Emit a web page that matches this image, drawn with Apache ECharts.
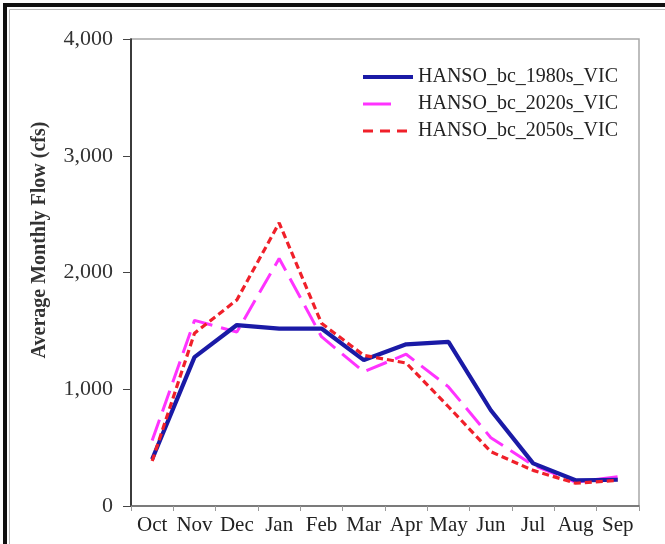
<!DOCTYPE html>
<html>
<head>
<meta charset="utf-8">
<script src="https://cdn.jsdelivr.net/npm/echarts@6/dist/echarts.min.js"></script>
<style>html,body{margin:0;padding:0;background:#fff}#c{width:665px;height:544px}</style>
</head>
<body>
<div id="c"></div>
<script>
var months = ['Oct','Nov','Dec','Jan','Feb','Mar','Apr','May','Jun','Jul','Aug','Sep'];
var s1980 = [400, 1275, 1550, 1520, 1520, 1250, 1385, 1405, 820, 365, 220, 225];
var s2020 = [560, 1590, 1490, 2120, 1450, 1150, 1300, 1020, 585, 350, 205, 250];
var s2050 = [385, 1480, 1765, 2425, 1565, 1290, 1225, 850, 465, 305, 195, 220];
var yTicks = [0, 1000, 2000, 3000, 4000];
var names = ['HANSO_bc_1980s_VIC','HANSO_bc_2020s_VIC','HANSO_bc_2050s_VIC'];
var font = 'Liberation Serif';

var chart = echarts.init(document.getElementById('c'), null, {renderer:'canvas'});
chart.setOption({
  animation: false,
  backgroundColor: '#fff',
  grid: {left: 131, right: 26, top: 39, bottom: 38, show: true, borderColor: '#a8a8a8', borderWidth: 1.5},
  legend: {
    orient: 'vertical', left: 356, top: 62,
    itemWidth: 50, itemHeight: 14, itemGap: 7,
    itemStyle: {opacity: 0},
    textStyle: {fontFamily: font, fontSize: 20, color: '#222'},
    data: [
      {name: names[0], lineStyle: {width: 4}},
      {name: names[1], lineStyle: {width: 3, type: [28, 40]}},
      {name: names[2], lineStyle: {width: 3, type: [10, 7]}}
    ]
  },
  xAxis: {
    type: 'category', data: months, boundaryGap: true,
    axisLine: {lineStyle: {color: '#666', width: 1.5}},
    axisTick: {show: true, inside: false, length: 5, lineStyle: {color: '#999'}},
    axisLabel: {fontFamily: font, fontSize: 21, color: '#222', margin: 9, interval: 0}
  },
  yAxis: {
    type: 'value', min: yTicks[0], max: yTicks[yTicks.length-1], interval: 1000,
    axisLine: {show: true, lineStyle: {color: '#111', width: 1.5}},
    axisTick: {show: true, inside: false, length: 8, lineStyle: {color: '#444'}},
    splitLine: {show: false},
    axisLabel: {fontFamily: font, fontSize: 22, color: '#333', margin: 18,
      formatter: function(v){ return v.toLocaleString('en-US'); }}
  },
  graphic: [
    {type: 'rect', shape: {x: 5, y: 5, width: 700, height: 600}, style: {fill: null, stroke: '#111', lineWidth: 4}, silent: true},
    {type: 'rect', shape: {x: 9.5, y: 9.5, width: 700, height: 600}, style: {fill: null, stroke: '#bbb', lineWidth: 1}, silent: true},
    {type: 'text', x: 40, y: 240, rotation: Math.PI/2,
      style: {text: 'Average Monthly Flow (cfs)', fontFamily: font, fontSize: 20, fontWeight: 'bold', fill: '#333', align: 'center', verticalAlign: 'middle'}}
  ],
  series: [
    {name: names[0], type: 'line', data: s1980, symbol: 'none', z: 3,
      color: '#1a1aa6', lineStyle: {color: '#1a1aa6', width: 4.2}},
    {name: names[1], type: 'line', data: s2020, symbol: 'none', z: 2,
      color: '#ff33ff', lineStyle: {color: '#ff33ff', width: 3, type: [22, 9]}},
    {name: names[2], type: 'line', data: s2050, symbol: 'none', z: 4,
      color: '#f0202a', lineStyle: {color: '#f0202a', width: 3.2, type: [7, 4]}}
  ]
});
</script>
</body>
</html>
